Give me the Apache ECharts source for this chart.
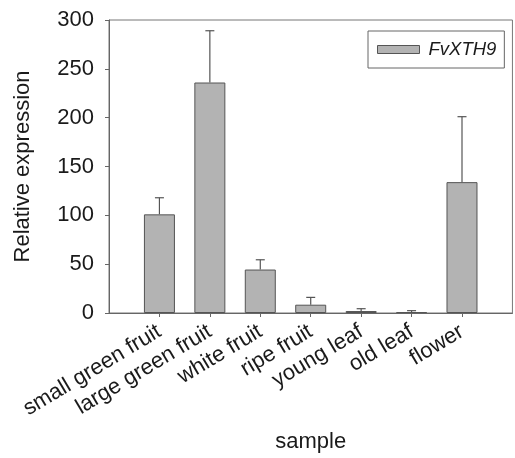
<!DOCTYPE html>
<html>
<head>
<meta charset="utf-8">
<script src="https://cdn.jsdelivr.net/npm/echarts@6/dist/echarts.min.js"></script>
<style>
  html, body { margin: 0; padding: 0; background: #fff; }
  #chart { width: 515px; height: 458px; }
</style>
</head>
<body>
<div id="chart"></div>
<script>
const samples = ['small green fruit', 'large green fruit', 'white fruit', 'ripe fruit', 'young leaf', 'old leaf', 'flower']
const expression = [101, 236, 44.5, 8.5, 2, 1, 134]
const errors = [17, 53, 10, 7.5, 2.4, 1.4, 67]
const yTicks = [0, 50, 100, 150, 200, 250, 300]

// pad the axis with an empty slot on each side, like the original plot
const cats = [''].concat(samples, [''])
const barData = ['-'].concat(expression, ['-'])
const errData = samples.map((s, i) => [i + 1, expression[i], expression[i] + errors[i]])

const font = 'Liberation Sans, Arial, sans-serif'
const chart = echarts.init(document.getElementById('chart'))

chart.setOption({
  animation: false,
  textStyle: { fontFamily: font, color: '#1a1a1a' },
  grid: {
    left: 109, right: 1, top: 20, bottom: 144,
    show: true, borderColor: '#777', borderWidth: 1
  },
  legend: {
    data: ['FvXTH9'],
    left: 368, top: 31,
    padding: [9, 8, 9, 9],
    borderColor: '#666', borderWidth: 1, borderRadius: 0,
    itemWidth: 42, itemHeight: 8, itemGap: 10,
    icon: 'rect',
    itemStyle: { color: '#b3b3b3', borderColor: '#555', borderWidth: 1 },
    textStyle: { fontSize: 18.5, fontStyle: 'italic', fontFamily: font, color: '#1a1a1a', padding: [0, 0, 0, 4] }
  },
  xAxis: {
    type: 'category',
    data: cats,
    boundaryGap: false,
    name: 'sample',
    nameLocation: 'middle',
    nameGap: 118,
    nameTextStyle: { fontSize: 22, fontFamily: font, color: '#1a1a1a' },
    axisLine: { lineStyle: { color: '#666', width: 1 } },
    axisTick: { length: 4, lineStyle: { color: '#666' }, interval: (i) => i > 0 && i < cats.length - 1 },
    axisLabel: { rotate: 31, fontSize: 22, margin: 17, interval: 0, color: '#1a1a1a' },
    splitLine: { show: false }
  },
  yAxis: {
    type: 'value',
    min: yTicks[0], max: yTicks[yTicks.length - 1], interval: 50,
    name: 'Relative expression',
    nameLocation: 'middle',
    nameGap: 75,
    nameTextStyle: { fontSize: 22, fontFamily: font, color: '#1a1a1a' },
    axisLine: { show: true, lineStyle: { color: '#666', width: 1 } },
    axisTick: { show: true, length: 4, lineStyle: { color: '#666' } },
    axisLabel: { fontSize: 22, margin: 15, color: '#1a1a1a' },
    splitLine: { show: false }
  },
  series: [
    {
      name: 'FvXTH9',
      type: 'bar',
      data: barData,
      barWidth: 31,
      itemStyle: { color: '#b3b3b3', borderColor: '#555', borderWidth: 1 },
      z: 3
    },
    {
      type: 'custom',
      data: errData,
      z: 2,
      renderItem: (params, api) => {
        const base = api.coord([api.value(0), api.value(1)])
        const top = api.coord([api.value(0), api.value(2)])
        const half = 4.5
        const st = { stroke: '#555', lineWidth: 1.2 }
        return {
          type: 'group',
          children: [
            { type: 'line', shape: { x1: base[0], y1: base[1], x2: top[0], y2: top[1] }, style: st },
            { type: 'line', shape: { x1: top[0] - half, y1: top[1], x2: top[0] + half, y2: top[1] }, style: st }
          ]
        }
      }
    }
  ]
})
</script>
</body>
</html>
